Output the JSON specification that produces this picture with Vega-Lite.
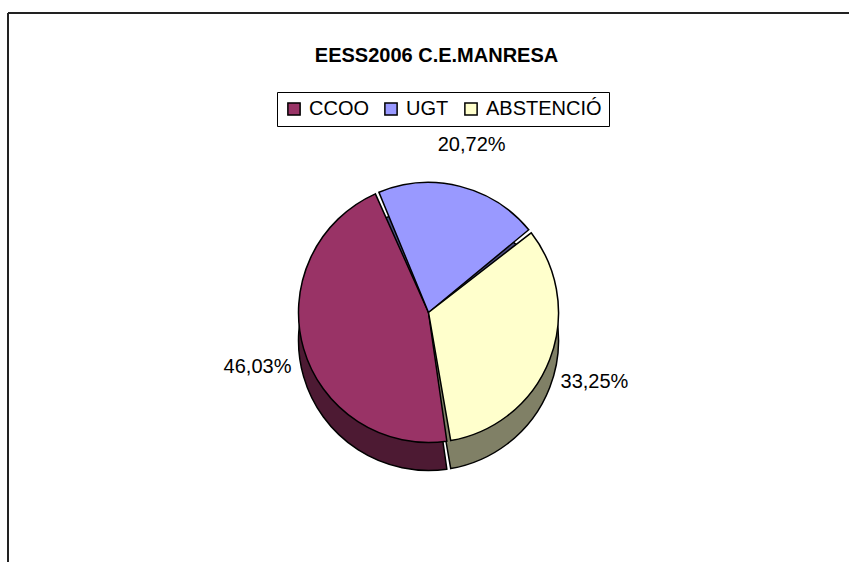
{
  "$schema": "https://vega.github.io/schema/vega-lite/v6.json",
  "width": 841,
  "height": 549,
  "autosize": {"type": "none"},
  "padding": {"left": 8, "top": 13, "right": 0, "bottom": 0},
  "background": "white",
  "view": {"stroke": "#222", "strokeWidth": 2, "strokeDash": [841, 1390, 549, 0], "fill": "white"},
  "title": {
    "text": "EESS2006 C.E.MANRESA",
    "font": "Liberation Sans, Arial, sans-serif",
    "fontSize": 20,
    "fontWeight": "bold",
    "color": "#000",
    "anchor": "middle",
    "offset": -53,
    "dx": 8
  },
  "config": {
    "view": {"stroke": "#222", "strokeWidth": 2, "strokeDash": [841, 1390, 549, 0]},
    "style": {"cell": {"stroke": "#222", "strokeWidth": 2, "strokeDash": [841, 1390, 549, 0]}},
    "locale": {"number": {"decimal": ",", "thousands": ".", "grouping": [3], "currency": ["", " €"]}},
    "font": "Liberation Sans, Arial, sans-serif"
  },
  "data": {
    "values": [
      {"sindicat": "CCOO", "pct": 0.4603, "ordre": 1},
      {"sindicat": "UGT", "pct": 0.2072, "ordre": 2},
      {"sindicat": "ABSTENCIÓ", "pct": 0.3325, "ordre": 3}
    ]
  },
  "encoding": {
    "theta": {"field": "pct", "type": "quantitative", "stack": true, "scale": {"range": [2.985, 9.268]}},
    "order": {"field": "ordre", "type": "quantitative"}
  },
  "layer": [
    {
      "mark": {"type": "arc", "outerRadius": 130, "yOffset": 53, "stroke": "#000", "strokeWidth": 1.5, "padAngle": 0.03},
      "encoding": {
        "fill": {
          "field": "sindicat",
          "type": "nominal",
          "scale": {"domain": ["CCOO", "UGT", "ABSTENCIÓ"], "range": ["#4D1A33", "#4D4D80", "#808066"]},
          "legend": null
        }
      }
    },
    {
      "mark": {"type": "arc", "outerRadius": 130, "yOffset": 25, "stroke": "#000", "strokeWidth": 1.5, "padAngle": 0.03, "opacity": 1},
      "encoding": {
        "color": {
          "field": "sindicat",
          "type": "nominal",
          "scale": {"domain": ["CCOO", "UGT", "ABSTENCIÓ"], "range": ["#993366", "#9999FF", "#FFFFCC"]},
          "legend": {
            "orient": "none",
            "legendX": 269,
            "legendY": 79,
            "direction": "horizontal",
            "title": null,
            "strokeColor": "#000",
            "padding": 7,
            "symbolType": "square",
            "symbolSize": 150,
            "symbolStrokeColor": "#000",
            "symbolStrokeWidth": 1.5,
            "symbolOpacity": 1,
            "labelFont": "Liberation Sans, Arial, sans-serif",
            "labelFontSize": 20,
            "labelColor": "#000",
            "labelOffset": 5,
            "columnPadding": 12
          }
        }
      }
    },
    {
      "mark": {"type": "text", "radius": 178, "yOffset": 30, "fontSize": 20, "font": "Liberation Sans, Arial, sans-serif", "color": "#000"},
      "encoding": {
        "text": {"field": "pct", "type": "quantitative", "format": ".2%"}
      }
    }
  ],
  "resolve": {"scale": {"color": "independent", "fill": "independent"}}
}
